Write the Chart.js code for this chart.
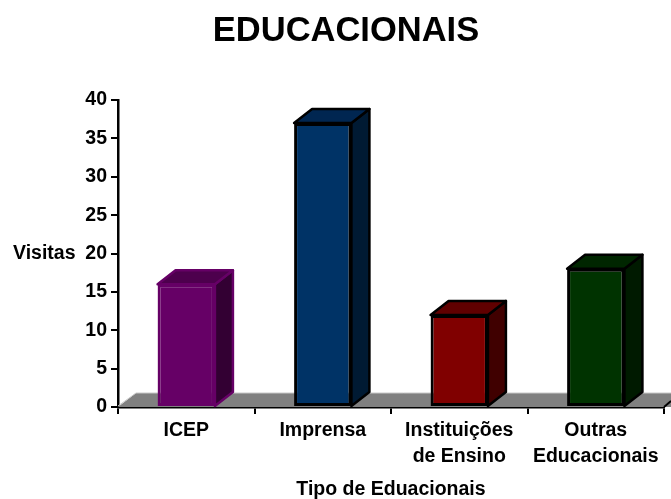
<!DOCTYPE html>
<html>
<head>
<meta charset="utf-8">
<title>Educacionais</title>
<script src="https://cdn.jsdelivr.net/npm/chart.js@4"></script>
<style>
  html, body { margin: 0; padding: 0; background: #fff; }
  #wrap { width: 671px; height: 499px; }
</style>
</head>
<body>
<div id="wrap"><canvas id="grafico" width="671" height="499"></canvas></div>
<script>
// Dados
const categorias = [['ICEP'], ['Imprensa'], ['Instituições', 'de Ensino'], ['Outras', 'Educacionais']];
const visitas = [16, 37, 12, 18];
const coresFrente = ['#660066', '#003366', '#800000', '#003300'];
const coresTopo = ['#4d004d', '#002651', '#600000', '#002600'];
const coresLado = ['#330033', '#001a33', '#400000', '#001a00'];
const coresBorda = ['#660066', '#000000', '#000000', '#000000'];

const familia = '"Liberation Sans", Arial, sans-serif';
const profX = 18;
const profY = 14;

function face(ctx, pts, fundo, borda) {
    ctx.beginPath();
    pts.forEach((p, i) => i ? ctx.lineTo(p[0], p[1]) : ctx.moveTo(p[0], p[1]));
    ctx.closePath();
    ctx.fillStyle = fundo;
    ctx.fill();
    ctx.lineWidth = 2.5;
    ctx.lineJoin = 'round';
    ctx.strokeStyle = borda;
    ctx.stroke();
}

// Efeito 3D: piso, faces das barras e textos fora do eixo
const efeito3d = {
    id: 'efeito3d',
    beforeDatasetsDraw(chart) {
        const { ctx, chartArea: a } = chart;
        ctx.save();
        // piso
        ctx.beginPath();
        ctx.moveTo(a.left, a.bottom);
        ctx.lineTo(a.left + profX, a.bottom - profY);
        ctx.lineTo(671, a.bottom - profY);
        ctx.lineTo(671, a.bottom);
        ctx.closePath();
        ctx.fillStyle = '#808080';
        ctx.fill();
        ctx.beginPath();
        ctx.moveTo(a.left, a.bottom - 1);
        ctx.lineTo(a.left + profX, a.bottom - profY);
        ctx.lineTo(671, a.bottom - profY);
        ctx.lineWidth = 1;
        ctx.strokeStyle = '#c8c8c8';
        ctx.stroke();
        // canto direito do piso
        ctx.beginPath();
        ctx.moveTo(a.right, a.bottom);
        ctx.lineTo(671, a.bottom - 6);
        ctx.lineWidth = 2;
        ctx.strokeStyle = '#000';
        ctx.stroke();
        // faces das barras
        chart.getDatasetMeta(0).data.forEach((b, i) => {
            const esq = b.x - b.width / 2;
            const dir = b.x + b.width / 2;
            face(ctx, [[dir, b.y], [dir + profX, b.y - profY], [dir + profX, b.base - profY], [dir, b.base]], coresLado[i], coresBorda[i]);
            face(ctx, [[esq, b.y], [esq + profX, b.y - profY], [dir + profX, b.y - profY], [dir, b.y]], coresTopo[i], coresBorda[i]);
        });
        ctx.restore();
    },
    afterDraw(chart) {
        const { ctx } = chart;
        ctx.save();
        ctx.fillStyle = '#000';
        ctx.textBaseline = 'middle';
        ctx.textAlign = 'center';
        ctx.font = 'bold 34.5px ' + familia;
        ctx.fillText('EDUCACIONAIS', 346, 31);
        ctx.textAlign = 'left';
        ctx.font = 'bold 19.5px ' + familia;
        ctx.fillText('Visitas', 13, 254);
        ctx.restore();
    }
};

const ctx = document.getElementById('grafico').getContext('2d');
new Chart(ctx, {
    type: 'bar',
    data: {
        labels: categorias,
        datasets: [{
            data: visitas,
            backgroundColor: coresFrente,
            borderColor: coresBorda,
            borderWidth: 3,
            borderSkipped: false,
            barPercentage: 0.42,
            categoryPercentage: 1
        }]
    },
    plugins: [efeito3d],
    options: {
        responsive: false,
        animation: false,
        layout: { padding: { top: 100, right: 7, left: 0, bottom: 0 } },
        plugins: {
            legend: { display: false },
            tooltip: { enabled: false }
        },
        scales: {
            x: {
                grid: { offset: true, drawOnChartArea: false, color: '#000', lineWidth: 2, tickLength: 7 },
                border: { color: '#000', width: 2.5 },
                ticks: {
                    color: '#000',
                    maxRotation: 0,
                    autoSkip: false,
                    padding: 3,
                    font: { family: familia, size: 19.5, weight: 'bold', lineHeight: 1.35 }
                },
                title: {
                    display: true,
                    text: 'Tipo de Eduacionais',
                    color: '#000',
                    font: { family: familia, size: 19.5, weight: 'bold' },
                    padding: { top: 8, bottom: -2 }
                },
                afterFit(scale) { scale.height = 92; }
            },
            y: {
                min: 0,
                max: 40,
                grid: { drawOnChartArea: false, color: '#000', lineWidth: 2, tickLength: 7 },
                border: { color: '#000', width: 2.5 },
                ticks: {
                    stepSize: 5,
                    color: '#000',
                    padding: 4,
                    font: { family: familia, size: 19.5, weight: 'bold' }
                },
                afterFit(scale) { scale.width = 118; }
            }
        }
    }
});
</script>
</body>
</html>
